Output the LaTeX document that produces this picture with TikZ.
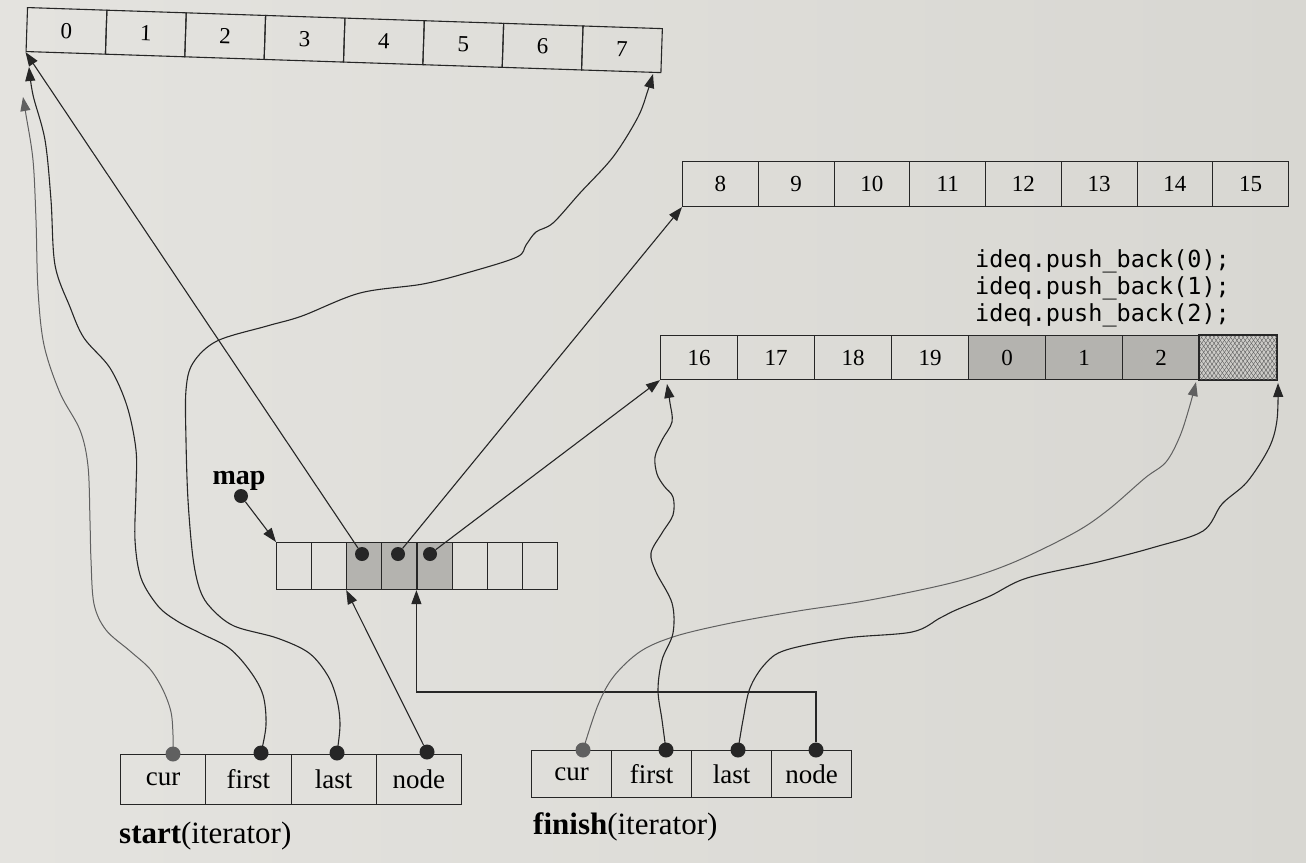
\documentclass[tikz,border=0pt]{standalone}
\usepackage{fontspec}
\setmainfont{Liberation Serif}
\newfontfamily\codefont{DejaVu Sans Mono}
\usetikzlibrary{arrows.meta,patterns.meta,calc}
\definecolor{paperL}{HTML}{E4E3DF}
\definecolor{paperR}{HTML}{D8D7D2}
\definecolor{ink}{HTML}{262626}
\definecolor{pale}{HTML}{606060}
\definecolor{shadecell}{HTML}{B4B3AF}
\definecolor{hatchbg}{HTML}{CDCCC8}
\definecolor{hatchln}{HTML}{5A5A5A}
\begin{document}
\begin{tikzpicture}[x=1pt,y=-1pt,
  cell/.style={draw=ink,line width=1.1pt,inner sep=0pt,anchor=north west,
    font=\fontsize{23}{23}\selectfont},
  itcell/.style={draw=ink,line width=1.1pt,inner sep=0pt,anchor=north west,
    font=\fontsize{27}{27}\selectfont},
  dot/.style={circle,fill=ink,inner sep=0pt,minimum size=15pt},
  pdot/.style={circle,fill=pale,inner sep=0pt,minimum size=15pt},
  mdot/.style={circle,fill=ink,inner sep=0pt,minimum size=14pt},
  arr/.style={draw=ink,line width=1.1pt,-{Triangle[length=14pt,width=10pt]}},
  parr/.style={draw=pale,line width=1pt,-{Triangle[length=14pt,width=10pt]}},
  wave/.style={smooth,tension=0.55}]

\shade[left color=paperL,right color=paperR] (0,0) rectangle (1306,862);
\useasboundingbox (0,0) rectangle (1306,862);

% ---------- top buffer 0..7 ----------
\begin{scope}[shift={(27,7)},rotate=-1.9,transform shape]
  \foreach \i in {0,...,7}{
    \node[cell,minimum width=79.4pt,minimum height=44pt] (t\i) at (\i*79.4,0) {\i};
  }
\end{scope}

% ---------- buffer 8..15 ----------
\foreach \i in {0,...,7}{
  \pgfmathtruncatemacro{\n}{\i+8}
  \node[cell,minimum width=75.75pt,minimum height=45pt] (b\i) at (682+\i*75.75,161) {\n};
}

% ---------- buffer 16..19,0,1,2 ----------
\foreach \lab/\f [count=\k from 0] in {16/none,17/none,18/none,19/none,0/shadecell,1/shadecell,2/shadecell}{
  \node[cell,fill=\f,minimum width=77pt,minimum height=44pt] (c\k) at (660+\k*77,335) {\lab};
}
\node[cell,fill=hatchbg,minimum width=77pt,minimum height=44pt,
  postaction={pattern={Lines[angle=55,distance=3.4pt,line width=0.4pt]},pattern color=hatchln},
  postaction={pattern={Lines[angle=-55,distance=3.4pt,line width=0.4pt]},pattern color=hatchln}]
  (c7) at (660+7*77,335) {};
\draw[ink,line width=1.1pt] (c7.north west) rectangle (c7.south east);

% ---------- code ----------
\node[anchor=west,align=left,inner sep=0pt,font=\codefont\fontsize{23.5}{27}\selectfont]
  (code) at (975,288) {ideq.push\_back(0);\\ideq.push\_back(1);\\ideq.push\_back(2);};

% ---------- map ----------
\foreach \f [count=\k from 0] in {none,none,shadecell,shadecell,shadecell,none,none,none}{
  \node[cell,fill=\f,minimum width=35.1pt,minimum height=47pt] (m\k) at (276+\k*35.1,542) {};
}
\node[inner sep=0pt,font=\bfseries\fontsize{28}{28}\selectfont] (maplbl) at (239,481) {map};
\node[mdot] (mapdot) at (241,496) {};
\draw[arr] (mapdot) -- (m0.north west);

\node[mdot] (md1) at (362,554) {};
\node[mdot] (md2) at (398,554) {};
\node[mdot] (md3) at (430,554) {};

% ---------- start iterator ----------
\foreach \lab [count=\k from 0] in {cur,first,last,node}{
  \node[itcell,minimum width=85.25pt,minimum height=50pt] (s\k) at (120+\k*85.25,754) {\lab};
}
\node[anchor=west,inner sep=0pt,font=\fontsize{31}{31}\selectfont] (scap) at (119,836) {\textbf{start}(iterator)};
\node[pdot] (sd0) at (173,754) {};
\node[dot] (sd1) at (261,753) {};
\node[dot] (sd2) at (337,753) {};
\node[dot] (sd3) at (427,752) {};

% ---------- finish iterator ----------
\foreach \lab [count=\k from 0] in {cur,first,last,node}{
  \node[itcell,minimum width=80pt,minimum height=47pt] (f\k) at (531+\k*80,750) {\lab};
}
\node[anchor=west,inner sep=0pt,font=\fontsize{31}{31}\selectfont] (fcap) at (533,827) {\textbf{finish}(iterator)};
\node[pdot] (fd0) at (583,750) {};
\node[dot] (fd1) at (666,750) {};
\node[dot] (fd2) at (738,750) {};
\node[dot] (fd3) at (816,750) {};

% ---------- free ends ----------
\coordinate (scurtip) at (23,97);
\coordinate (sfirsttip) at (29,67);
\coordinate (slasttip) at (653,74);
\coordinate (fcurtip) at (1196,382);
\coordinate (ffirsttip) at (667,384);
\coordinate (flasttip) at (1278,383);
\coordinate (fbend) at (816,692);

% ---------- straight connectors ----------
\draw[arr] (md1) -- (t0.south west);
\draw[arr] (md2) -- (b0.south west);
\draw[arr] (md3) -- (c0.south west);
\draw[arr] (sd3) -- (m2.south west);
\draw[arr] (fd3) -- (fbend) -| (m4.south west);

% ---------- wavy connectors: start ----------
\draw[parr] plot[wave] coordinates {(sd0) (173,735) (171,712) (163,690) (150,669)
  (130,651) (106,630) (94,604) (91,560) (90,521) (88,466) (80,430) (60,393)
  (44,345) (38,290) (36,220) (33,160) (26,115) (scurtip)};
\draw[arr] plot[wave] coordinates {(sd1) (266,725) (263,695) (250,671) (229,648)
  (200,633) (177,621) (158,606) (141,578) (135,540) (136,490) (136,450) (127,406)
  (110,368) (84,338) (70,307) (55,265) (51,200) (45,140) (33,95) (sfirsttip)};
\draw[arr] plot[wave] coordinates {(sd2) (340,725) (337,700) (328,676) (309,653)
  (277,638) (234,626) (211,608) (200,590) (193,558) (188,500) (186,440) (186,390)
  (193,363) (217,341) (267,326) (302,316) (360,293) (423,284) (470,272)
  (517,257) (526,245) (536,232) (553,223) (580,193) (613,157) (638,117)
  (648,90) (slasttip)};

% ---------- wavy connectors: finish ----------
\draw[parr] plot[wave] coordinates {(fd0) (598,705) (614,676) (641,651) (676,636)
  (731,623) (798,611) (870,600) (955,582) (1012,563) (1074,533) (1108,510)
  (1145,478) (1166,462) (1180,436) (1190,405) (fcurtip)};
\draw[arr] plot[wave] coordinates {(fd1) (662,720) (658,690) (662,660) (673,633)
  (672,603) (656,572) (651,553) (662,533) (673,515) (673,497) (664,486)
  (657,474) (655,457) (662,440) (672,422) (670,403) (ffirsttip)};
\draw[arr] plot[wave] coordinates {(fd2) (743,720) (750,688) (765,664) (786,650)
  (846,638) (912,632) (940,618) (956,610) (990,596) (1027,578) (1098,562)
  (1155,547) (1203,531) (1222,504) (1247,482) (1269,448) (1277,420) (flasttip)};

\end{tikzpicture}
\end{document}
